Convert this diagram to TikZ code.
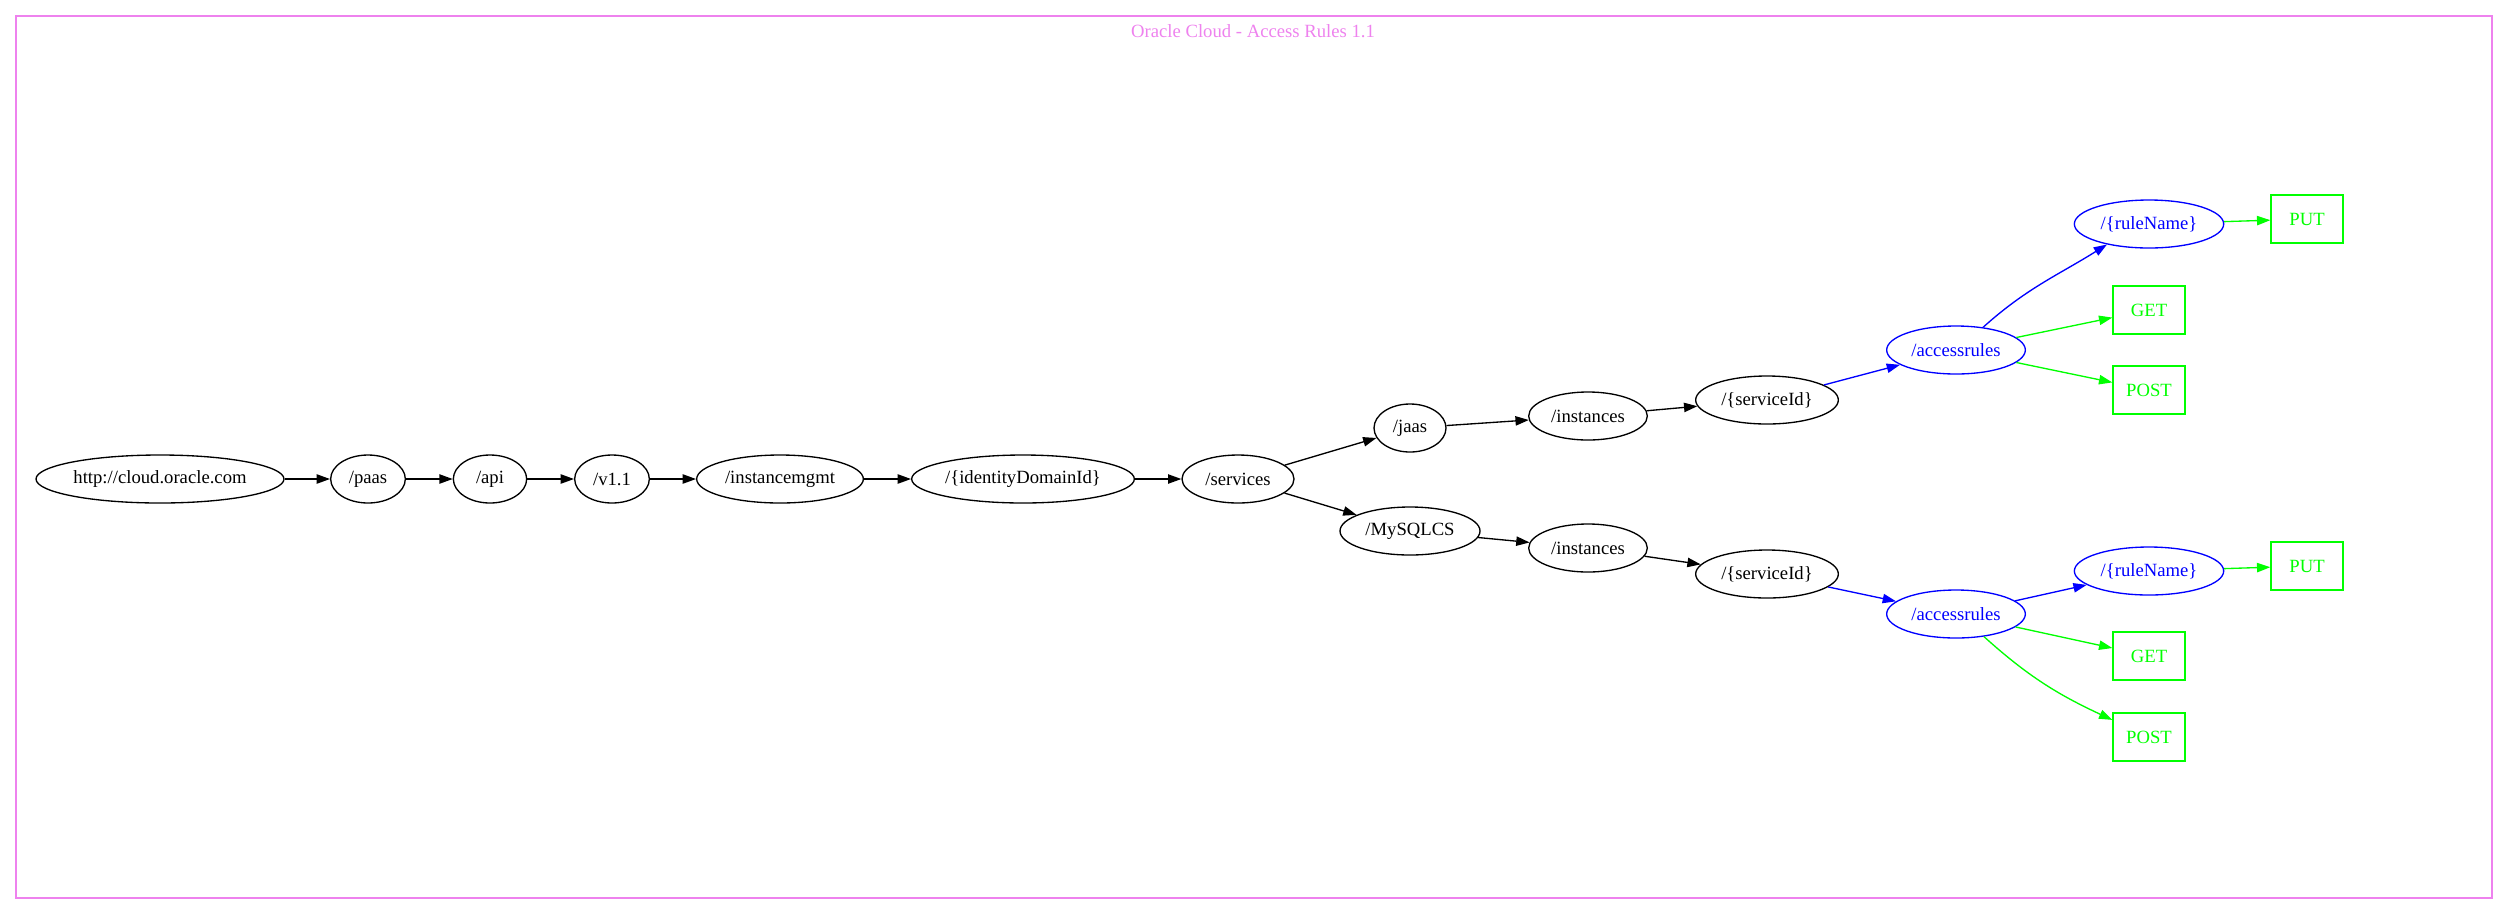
\documentclass[tikz,border=0pt]{standalone}
\usepackage{fontspec}
\setmainfont{Liberation Serif}
\usetikzlibrary{shapes.geometric,arrows.meta}
\definecolor{gvviolet}{HTML}{EE82EE}
\definecolor{gvgreen}{HTML}{00FF00}
\definecolor{gvblue}{HTML}{0000FF}
\tikzset{
  ell/.style={draw, ellipse, inner sep=0pt, minimum height=36pt, font=\fontsize{14pt}{16pt}\selectfont, line width=1pt},
  bell/.style={ell, draw=gvblue, text=gvblue},
  verb/.style={draw=gvgreen, text=gvgreen, rectangle, minimum width=54pt, minimum height=36pt, inner sep=0pt, font=\fontsize{14pt}{16pt}\selectfont, line width=1pt},
  edge/.style={line width=1pt, -{Triangle[length=10pt,width=7pt]}},
  kedge/.style={edge, black},
  bedge/.style={edge, gvblue},
  gedge/.style={edge, gvgreen},
}
\begin{document}
\begin{tikzpicture}[x=0.75pt,y=-0.75pt]
\useasboundingbox (0,0) rectangle (2508,915);
\node[draw=gvviolet, line width=1pt, rectangle, minimum width=2476*0.75pt, minimum height=882*0.75pt, inner sep=0pt] (frame) at (1254,457) {};
\node[text=gvviolet, font=\fontsize{14pt}{16pt}\selectfont] (title) at (1253,31) {Oracle Cloud - Access Rules 1.1};

\node[ell, minimum width=186pt] (root) at (160,479) {http://cloud.oracle.com};
\node[ell, minimum width=56pt] (paas) at (368,479) {/paas};
\node[ell, minimum width=55pt] (api) at (490,479) {/api};
\node[ell, minimum width=56pt] (v11) at (612,479) {/v1.1};
\node[ell, minimum width=125pt] (mgmt) at (780,479) {/instancemgmt};
\node[ell, minimum width=167pt] (dom) at (1023,479) {/\{identityDomainId\}};
\node[ell, minimum width=84pt] (serv) at (1238,479) {/services};

\node[ell, minimum width=54pt] (jaas) at (1410,428) {/jaas};
\node[ell, minimum width=89pt] (insta) at (1588,416) {/instances};
\node[ell, minimum width=107pt] (sida) at (1767,400) {/\{serviceId\}};
\node[bell, minimum width=104pt] (acca) at (1956,350) {/accessrules};
\node[bell, minimum width=112pt] (rula) at (2149,224) {/\{ruleName\}};
\node[verb] (puta) at (2307,219) {PUT};
\node[verb] (geta) at (2149,310) {GET};
\node[verb] (posta) at (2149,390) {POST};

\node[ell, minimum width=105pt] (mysql) at (1410,531) {/MySQLCS};
\node[ell, minimum width=89pt] (instb) at (1588,548) {/instances};
\node[ell, minimum width=107pt] (sidb) at (1767,574) {/\{serviceId\}};
\node[bell, minimum width=104pt] (accb) at (1956,614) {/accessrules};
\node[bell, minimum width=112pt] (rulb) at (2149,571) {/\{ruleName\}};
\node[verb] (putb) at (2307,566) {PUT};
\node[verb] (getb) at (2149,656) {GET};
\node[verb] (postb) at (2149,737) {POST};

\draw[kedge] (root) -- (paas);
\draw[kedge] (paas) -- (api);
\draw[kedge] (api) -- (v11);
\draw[kedge] (v11) -- (mgmt);
\draw[kedge] (mgmt) -- (dom);
\draw[kedge] (dom) -- (serv);
\draw[kedge] (serv) -- (jaas);
\draw[kedge] (serv) -- (mysql);
\draw[kedge] (jaas) -- (insta);
\draw[kedge] (insta) -- (sida);
\draw[bedge] (sida) -- (acca);
\draw[bedge] (acca.40) to[out=42,in=212] (rula.206);
\draw[gedge] (acca) -- (geta);
\draw[gedge] (acca) -- (posta);
\draw[gedge] (rula) -- (puta);
\draw[kedge] (mysql) -- (instb);
\draw[kedge] (instb) -- (sidb);
\draw[bedge] (sidb) -- (accb);
\draw[bedge] (accb) -- (rulb);
\draw[gedge] (accb) -- (getb);
\draw[gedge] (accb.-39) to[out=-42,in=155] (postb.155);
\draw[gedge] (rulb) -- (putb);
\end{tikzpicture}
\end{document}
